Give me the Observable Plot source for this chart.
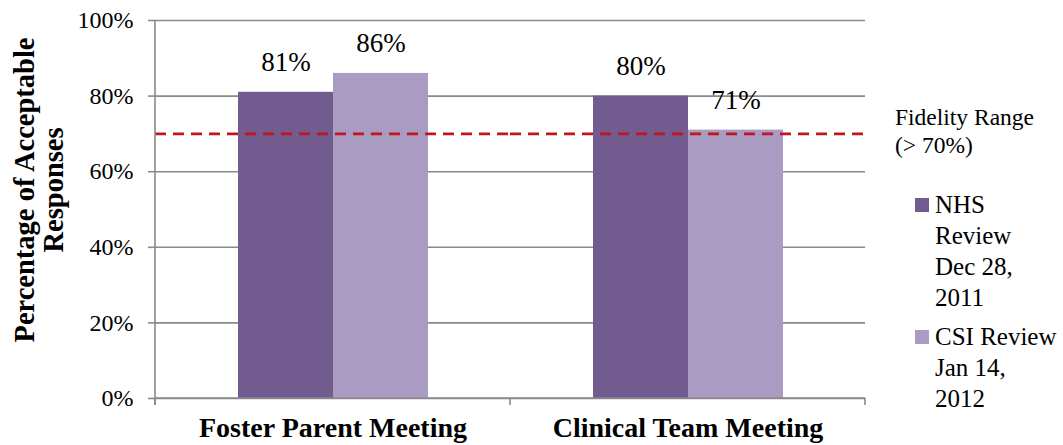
<!DOCTYPE html>
<html><head><meta charset="utf-8">
<script src="https://cdn.jsdelivr.net/npm/d3@7"></script>
<script src="https://cdn.jsdelivr.net/npm/@observablehq/plot@0.6"></script>
<style>
body{margin:0;background:#fff;font-family:"Liberation Serif","Times New Roman",serif;}
#wrap{position:relative;width:1063px;height:445px;}
#wrap svg, #wrap svg text{font-family:"Liberation Serif","Times New Roman",serif;}
.lg{position:absolute;color:#000;white-space:nowrap;font-family:"Liberation Serif","Times New Roman",serif;}
.sw{position:absolute;width:14px;height:14px;}
</style></head>
<body><div id="wrap"></div>
<script>
const meetings = ["Foster Parent Meeting", "Clinical Team Meeting"];
const series = ["NHS Review Dec 28, 2011", "CSI Review Jan 14, 2012"];
const nhsValues = [0.81, 0.80];
const csiValues = [0.86, 0.71];
const yTicks = [0, 0.2, 0.4, 0.6, 0.8, 1.0];
const fidelity = [0.70];
const colors = ["#725b8f", "#a99bc1"];
const gridColor = "#8a8a8a";
const serif = "'Liberation Serif', 'Times New Roman', serif";

const data = meetings.flatMap((m, i) => [
  {meeting: m, series: series[0], value: nhsValues[i]},
  {meeting: m, series: series[1], value: csiValues[i]}
]);
const pct = d => Math.round(d * 100) + "%";

const plot = Plot.plot({
  width: 1063, height: 445,
  marginLeft: 155, marginRight: 198, marginTop: 20, marginBottom: 47,
  style: {fontFamily: serif, fontSize: "23px", color: "#000", background: "#fff", overflow: "visible"},
  fx: {domain: meetings, padding: 0, label: null},
  x: {domain: series, paddingInner: 0, paddingOuter: 0.85, axis: null},
  y: {domain: [0, 1], label: null},
  color: {domain: series, range: colors},
  marks: [
    Plot.gridY(yTicks, {stroke: gridColor, strokeOpacity: 1, strokeWidth: 1.6}),
    Plot.axisY(yTicks, {tickFormat: pct, tickSize: 7, tickPadding: 15, stroke: gridColor, strokeWidth: 1.6, fontSize: 24, label: null}),
    Plot.axisFx({anchor: "bottom", tickSize: 0, tickPadding: 19, fontSize: 28, fontWeight: "bold", label: null}),
    Plot.barY(data, {fx: "meeting", x: "series", y: "value", fill: "series", inset: 0}),
    Plot.text(data, {fx: "meeting", x: "series", y: "value", text: d => pct(d.value), dy: -30, fontSize: 27, fill: "#000"}),
    Plot.ruleY(fidelity, {stroke: "#c0161e", strokeWidth: 2.8, strokeDasharray: "11,7"})
  ]
});

document.getElementById("wrap").appendChild(plot);

// axis lines and category-boundary ticks computed from Plot's scales
const fx = plot.scale("fx"), y = plot.scale("y");
const svg = d3.select(plot);
const x0 = fx.apply(meetings[0]);
const bounds = [x0, ...meetings.map(m => fx.apply(m) + fx.bandwidth)];
const yb = y.apply(0), yt = y.apply(1);
const g = svg.append("g").attr("stroke", gridColor).attr("stroke-width", 1.6);
g.append("line").attr("x1", x0).attr("x2", x0).attr("y1", yt).attr("y2", yb + 7);
g.append("line").attr("x1", bounds[0]).attr("x2", bounds[bounds.length - 1]).attr("y1", yb).attr("y2", yb);
bounds.forEach(b => g.append("line").attr("x1", b).attr("x2", b).attr("y1", yb).attr("y2", yb + 7));

// y axis title (two lines)
const titleLines = ["Percentage of Acceptable", "Responses"];
titleLines.forEach((t, i) => {
  svg.append("text").attr("transform", `translate(${34 + i * 29},190) rotate(-90)`)
    .attr("text-anchor", "middle").attr("font-weight", "bold").attr("font-size", 28.5)
    .attr("font-family", serif).attr("fill", "#000").text(t);
});

// legend (HTML)
const wrap = document.getElementById("wrap");
const fid = document.createElement("div");
fid.className = "lg";
fid.style.cssText = "left:895px;top:103px;font-size:23.5px;line-height:28px;";
fid.innerHTML = "Fidelity Range<br>(&gt; 70%)";
wrap.appendChild(fid);
const legendLines = [["NHS", "Review", "Dec 28,", "2011"], ["CSI Review", "Jan 14,", "2012"]];
const legendTops = [189, 321];
legendLines.forEach((lines, i) => {
  const sw = document.createElement("div");
  sw.className = "sw";
  sw.style.cssText = `left:915px;top:${legendTops[i] + 9}px;background:${colors[i]};`;
  wrap.appendChild(sw);
  const tx = document.createElement("div");
  tx.className = "lg";
  tx.style.cssText = `left:935px;top:${legendTops[i]}px;font-size:25px;line-height:31px;`;
  tx.innerHTML = lines.join("<br>");
  wrap.appendChild(tx);
});
</script>
</body></html>
